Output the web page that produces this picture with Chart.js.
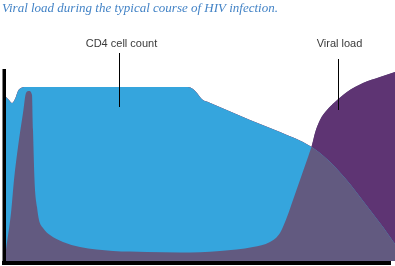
<!DOCTYPE html>
<html>
<head>
<meta charset="utf-8">
<script src="https://cdn.jsdelivr.net/npm/chart.js@4"></script>
<style>
  html, body { margin: 0; padding: 0; background: #ffffff; }
  canvas { display: block; }
</style>
</head>
<body>
<canvas id="c" width="395" height="266"></canvas>
<script>
// ---- Data (time in arbitrary units, level in arbitrary units) ----
const titleText = 'Viral load during the typical course of HIV infection.';
const cd4Label = 'CD4 cell count';
const viralLabel = 'Viral load';

const cd4Time  = [0, 3, 6, 9, 12, 15, 19, 54, 114, 182, 187, 191, 194, 197, 202, 244, 274, 304, 322, 339, 351, 364, 377, 389];
const cd4Level = [164, 161, 158, 162, 170, 173, 174, 174, 174, 174, 172, 168, 164, 161, 159, 141, 129, 115, 101, 83, 68, 51, 34, 17];

const viralTime  = [0, 5, 8, 12, 17, 20, 23, 26, 27, 28.5, 31, 33, 37, 44, 57, 74, 107, 141, 174, 214, 247, 264, 274, 281, 287, 294, 301, 306, 309, 314, 321, 329, 341, 357, 374, 389];
const viralLevel = [11, 48, 81, 114, 148, 168, 170, 166, 131, 81, 54, 41, 33, 26, 19, 14, 10, 9, 8.5, 10, 14, 19, 28, 44, 61, 81, 101, 116, 128, 141, 151, 159, 169, 178, 184, 189];

// label anchors (data units): [labelX, labelY, lineTopY, lineBottomY]
const cd4Anchor   = [115.5, 217, 208, 154];
const viralAnchor = [333.5, 217, 202, 151];

const BLUE = '#35a5dd';
const PURPLE = '#5e3473';
const OVERLAP = '#625a80';

const toPts = (xs, ys) => xs.map((x, i) => ({x: x, y: ys[i]}));

const decor = {
  id: 'decor',
  afterDatasetsDraw(chart) {
    const {ctx, chartArea, scales} = chart;
    const xs = scales.x, ys = scales.y;
    ctx.save();
    // axes
    ctx.fillStyle = '#000';
    ctx.fillRect(chartArea.left + 0.5, chartArea.top - 1, 3.5, chartArea.bottom - chartArea.top + 5);
    ctx.fillRect(chartArea.left, chartArea.bottom, chartArea.right - chartArea.left - 4, 4);
    // annotations
    ctx.font = '11px "Liberation Sans", Arial, sans-serif';
    ctx.textAlign = 'center';
    ctx.textBaseline = 'middle';
    ctx.fillStyle = '#3a3a3a';
    ctx.strokeStyle = '#000';
    ctx.lineWidth = 1;
    [[cd4Label, cd4Anchor], [viralLabel, viralAnchor]].forEach(([t, a]) => {
      ctx.fillText(t, xs.getPixelForValue(a[0]), ys.getPixelForValue(a[1]));
      const lx = Math.round(xs.getPixelForValue(a[0] - 2)) + 0.5;
      ctx.beginPath();
      ctx.moveTo(lx, ys.getPixelForValue(a[2]));
      ctx.lineTo(lx, ys.getPixelForValue(a[3]));
      ctx.stroke();
    });
    ctx.restore();
  }
};

const common = {
  borderWidth: 0,
  borderColor: 'rgba(0,0,0,0)',
  pointRadius: 0,
  pointHoverRadius: 0,
  cubicInterpolationMode: 'monotone'
};

new Chart(document.getElementById('c'), {
  type: 'line',
  data: {
    datasets: [
      Object.assign({label: viralLabel, data: toPts(viralTime, viralLevel),
        fill: {target: 1, above: PURPLE, below: BLUE}}, common),
      Object.assign({label: cd4Label, data: toPts(cd4Time, cd4Level),
        fill: 'origin', backgroundColor: OVERLAP}, common),
      Object.assign({label: viralLabel + ' (base)', data: toPts(viralTime, viralLevel),
        fill: 'origin', backgroundColor: OVERLAP}, common)
    ]
  },
  options: {
    responsive: false,
    animation: false,
    events: [],
    layout: { padding: { left: 2, right: 0, top: 0, bottom: 5 } },
    scales: {
      x: { type: 'linear', display: false, min: -4, max: 389 },
      y: { display: false, min: 0, max: 191 }
    },
    plugins: {
      legend: { display: false },
      tooltip: { enabled: false },
      title: {
        display: true,
        text: titleText,
        align: 'start',
        color: '#4383c6',
        font: { family: '"Liberation Serif", "DejaVu Serif", serif', style: 'italic', weight: 'normal', size: 13, lineHeight: '15px' },
        padding: { top: 1, bottom: 54 }
      }
    }
  },
  plugins: [decor]
});
</script>
</body>
</html>
